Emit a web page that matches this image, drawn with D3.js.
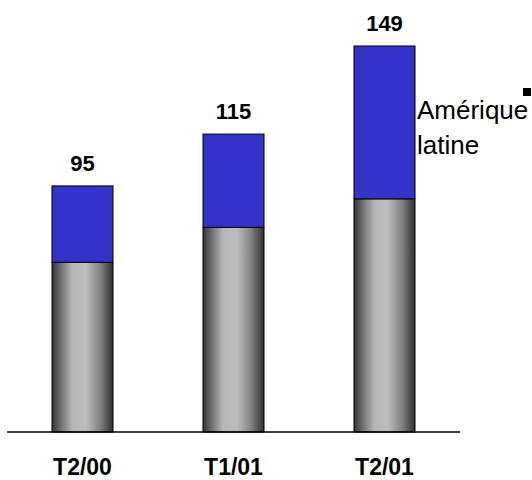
<!DOCTYPE html>
<html>
<head>
<meta charset="utf-8">
<script src="https://cdn.jsdelivr.net/npm/d3@7"></script>
<style>
  html, body { margin: 0; padding: 0; background: #fff; }
  svg { display: block; font-family: "Liberation Sans", Arial, sans-serif; }
</style>
</head>
<body>
<svg id="chart" width="532" height="480"></svg>
<script>
// Quarterly totals, split into the base (grey) and Amérique latine (blue)
const categories = ["T2/00", "T1/01", "T2/01"];
const autres = [65.5, 79, 90];
const ameriqueLatine = [29.5, 36, 59];
const legendLines = ["Amérique", "latine"];

const svg = d3.select("#chart");

const x = d3.scaleBand()
  .domain(categories)
  .range([7, 460])
  .paddingInner(0.596)
  .paddingOuter(0.298);

const totals = categories.map((c, i) => autres[i] + ameriqueLatine[i]);

const y = d3.scaleLinear()
  .domain([0, d3.max(totals)])
  .range([432, 46]);

// cylinder-like shading for the grey segment
const defs = svg.append("defs");
const grad = defs.append("linearGradient")
  .attr("id", "greyShade")
  .attr("x1", "0%").attr("x2", "100%")
  .attr("y1", "0%").attr("y2", "0%");
[
  [0, "#353535"], [0.12, "#666666"], [0.33, "#b6b6b6"],
  [0.55, "#bdbdbd"], [0.78, "#858585"], [1, "#303030"]
].forEach(([o, c]) => grad.append("stop").attr("offset", o).attr("stop-color", c));

const rows = categories.map((c, i) => ({
  cat: c,
  autres: autres[i],
  ameriqueLatine: ameriqueLatine[i],
  total: totals[i]
}));

const stack = d3.stack().keys(["autres", "ameriqueLatine"]);
const series = stack(rows);
const fills = { autres: "url(#greyShade)", ameriqueLatine: "#3333cc" };

svg.append("g")
  .selectAll("g")
  .data(series)
  .join("g")
  .attr("fill", d => fills[d.key])
  .selectAll("rect")
  .data(d => d)
  .join("rect")
  .attr("x", d => x(d.data.cat))
  .attr("width", x.bandwidth())
  .attr("y", d => y(d[1]))
  .attr("height", d => y(d[0]) - y(d[1]))
  .attr("stroke", "#000")
  .attr("stroke-width", 1);

// baseline
svg.append("line")
  .attr("x1", x.range()[0]).attr("x2", x.range()[1])
  .attr("y1", y(0)).attr("y2", y(0))
  .attr("stroke", "#000")
  .attr("stroke-width", 1.3);

// total labels above bars
svg.append("g")
  .selectAll("text")
  .data(rows)
  .join("text")
  .attr("x", d => x(d.cat) + x.bandwidth() / 2)
  .attr("y", d => y(d.total) - 15)
  .attr("text-anchor", "middle")
  .attr("font-size", 22)
  .attr("font-weight", "bold")
  .attr("fill", "#000")
  .text(d => d.total);

// category labels
svg.append("g")
  .selectAll("text")
  .data(categories)
  .join("text")
  .attr("x", d => x(d) + x.bandwidth() / 2)
  .attr("y", 475)
  .attr("text-anchor", "middle")
  .attr("font-size", 23)
  .attr("font-weight", "bold")
  .attr("fill", "#000")
  .text(d => d);

// legend
const legend = svg.append("g");
legend.append("rect")
  .attr("x", 523).attr("y", 88)
  .attr("width", 8).attr("height", 8)
  .attr("fill", "#000");
legend.selectAll("text")
  .data(legendLines)
  .join("text")
  .attr("x", 417)
  .attr("y", (d, i) => 119 + i * 35)
  .attr("font-size", 26)
  .attr("fill", "#000")
  .text(d => d);
</script>
</body>
</html>
